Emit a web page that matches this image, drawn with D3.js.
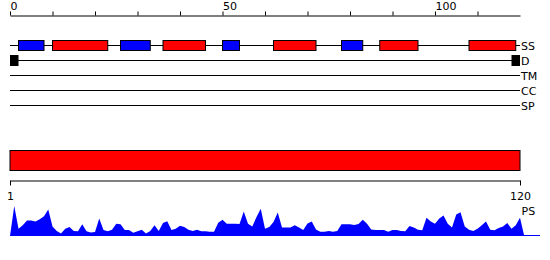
<!DOCTYPE html>
<html>
<head>
<meta charset="utf-8">
<script src="https://cdn.jsdelivr.net/npm/d3@7"></script>
<style>
  body { margin: 0; background: #fff; }
  svg { display: block; font-family: "DejaVu Sans", sans-serif; }
</style>
</head>
<body>
<svg id="chart"></svg>
<script>
// Protein feature track plot

// track rows, top to bottom
const tracks = ['SS', 'D', 'TM', 'CC', 'SP'];

// secondary structure segments (residue start, end, type)
const ssStart = [2, 10, 26, 36, 50, 62, 78, 87, 108];
const ssEnd   = [8, 23, 33, 46, 54, 72, 83, 96, 119];
const ssType  = ['E', 'H', 'E', 'H', 'E', 'H', 'E', 'H', 'H'];

// D track end markers
const dStart = [0, 118];
const dEnd   = [2, 120];

// top ruler
const rulerTicks  = [0, 10, 20, 30, 40, 50, 60, 70, 80, 90, 100, 110];
const rulerLabels = [0, 50, 100];

// bottom ruler
const seqTicks = [1, 120];

// per-residue score (PS), residues 1..120
const psScore = [
  1.00, 0.24, 0.36, 0.52, 0.52, 0.48, 0.56, 0.66, 0.88, 0.32,
  0.17, 0.08, 0.24, 0.30, 0.17, 0.16, 0.39, 0.16, 0.12, 0.13,
  0.58, 0.20, 0.16, 0.21, 0.41, 0.39, 0.20, 0.20, 0.11, 0.16,
  0.21, 0.08, 0.17, 0.36, 0.17, 0.43, 0.49, 0.20, 0.24, 0.34,
  0.30, 0.21, 0.17, 0.21, 0.16, 0.16, 0.14, 0.14, 0.44, 0.54,
  0.41, 0.41, 0.41, 0.40, 0.82, 0.41, 0.32, 0.63, 0.91, 0.24,
  0.30, 0.47, 0.78, 0.28, 0.28, 0.28, 0.36, 0.28, 0.20, 0.42,
  0.48, 0.22, 0.14, 0.14, 0.17, 0.14, 0.17, 0.39, 0.39, 0.39,
  0.37, 0.40, 0.54, 0.41, 0.22, 0.20, 0.20, 0.20, 0.14, 0.20,
  0.20, 0.17, 0.16, 0.33, 0.28, 0.21, 0.19, 0.61, 0.48, 0.41,
  0.58, 0.68, 0.41, 0.28, 0.72, 0.79, 0.32, 0.21, 0.17, 0.24,
  0.36, 0.48, 0.21, 0.19, 0.27, 0.32, 0.43, 0.24, 0.36, 0.61
];

const width = 550;
const height = 260;

const svg = d3.select('#chart')
  .attr('width', width)
  .attr('height', height);

const x = d3.scaleLinear().domain([0, 120]).range([10, 520]);
const xSeq = d3.scaleLinear().domain([1, 120]).range([10, 520]);

const trackY = d3.scalePoint()
  .domain(tracks)
  .range([45.5, 105.5]);

const yScore = d3.scaleLinear().domain([0, 1]).range([236, 206]);

// Top ruler
const topAxis = d3.axisTop(x)
  .tickValues(rulerTicks)
  .tickSize(4)
  .tickSizeOuter(0)
  .tickFormat(d => rulerLabels.includes(d) ? d : '');

const topG = svg.append('g')
  .attr('transform', 'translate(0,15.5)')
  .call(topAxis);
topG.select('.domain').attr('stroke', '#000');
topG.selectAll('.tick line').attr('stroke', '#000');
topG.selectAll('.tick text')
  .attr('text-anchor', 'start')
  .attr('y', -5.5)
  .attr('dy', 0)
  .style('font-family', '"DejaVu Sans", sans-serif')
  .style('font-size', '11px')
  .attr('fill', '#000');

// Track lines and labels
svg.append('g')
  .selectAll('line')
  .data(tracks)
  .enter()
  .append('line')
  .attr('x1', x(0))
  .attr('x2', x(120))
  .attr('y1', d => trackY(d))
  .attr('y2', d => trackY(d))
  .attr('stroke', '#000')
  .attr('stroke-width', 1);

svg.append('g')
  .selectAll('text')
  .data(tracks)
  .enter()
  .append('text')
  .attr('x', x(120) + 1)
  .attr('y', d => trackY(d) + 4)
  .style('font-size', '11px')
  .attr('fill', '#000')
  .text(d => d);

// SS segments
const ssData = ssStart.map((s, i) => ({ start: s, end: ssEnd[i], type: ssType[i] }));

svg.append('g')
  .selectAll('rect')
  .data(ssData)
  .enter()
  .append('rect')
  .attr('x', d => x(d.start))
  .attr('y', trackY('SS') - 5)
  .attr('width', d => x(d.end) - x(d.start))
  .attr('height', 10)
  .attr('fill', d => d.type === 'H' ? '#ff0000' : '#0000ff')
  .attr('stroke', '#000')
  .attr('stroke-width', 1);

// D markers
const dData = dStart.map((s, i) => ({ start: s, end: dEnd[i] }));

svg.append('g')
  .selectAll('rect')
  .data(dData)
  .enter()
  .append('rect')
  .attr('x', d => x(d.start) + 0.5)
  .attr('y', trackY('D') - 5)
  .attr('width', d => x(d.end) - x(d.start) - 1)
  .attr('height', 10)
  .attr('fill', '#000')
  .attr('stroke', '#000')
  .attr('stroke-width', 1);

// Full-length domain bar
svg.append('rect')
  .attr('x', xSeq(1))
  .attr('y', 150.5)
  .attr('width', xSeq(120) - xSeq(1))
  .attr('height', 20)
  .attr('fill', '#ff0000')
  .attr('stroke', '#000')
  .attr('stroke-width', 1);

// Bottom ruler
const bottomAxis = d3.axisBottom(xSeq)
  .tickValues(seqTicks)
  .tickSize(5)
  .tickSizeOuter(0)
  .tickFormat(d3.format('d'));

const botG = svg.append('g')
  .attr('transform', 'translate(0,180.5)')
  .call(bottomAxis);
botG.select('.domain').attr('stroke', '#000');
botG.selectAll('.tick line').attr('stroke', '#000');
botG.selectAll('.tick text')
  .attr('y', 19.5)
  .attr('dy', 0)
  .style('font-family', '"DejaVu Sans", sans-serif')
  .style('font-size', '11px')
  .attr('fill', '#000');

svg.append('text')
  .attr('x', xSeq(120) + 1.5)
  .attr('y', 215)
  .style('font-size', '11px')
  .attr('fill', '#000')
  .text('PS');

// PS score area
const psData = [{ i: 0, v: 0 }]
  .concat(psScore.map((v, k) => ({ i: k + 1, v: v })))
  .concat([{ i: 121, v: 0 }]);

const area = d3.area()
  .x(d => x(d.i))
  .y0(yScore(0))
  .y1(d => yScore(d.v));

svg.append('path')
  .datum(psData)
  .attr('d', area)
  .attr('fill', '#0000ff');

svg.append('line')
  .attr('x1', x(0))
  .attr('x2', 540)
  .attr('y1', yScore(0) - 0.5)
  .attr('y2', yScore(0) - 0.5)
  .attr('stroke', '#0000ff')
  .attr('stroke-width', 1);
</script>
</body>
</html>
